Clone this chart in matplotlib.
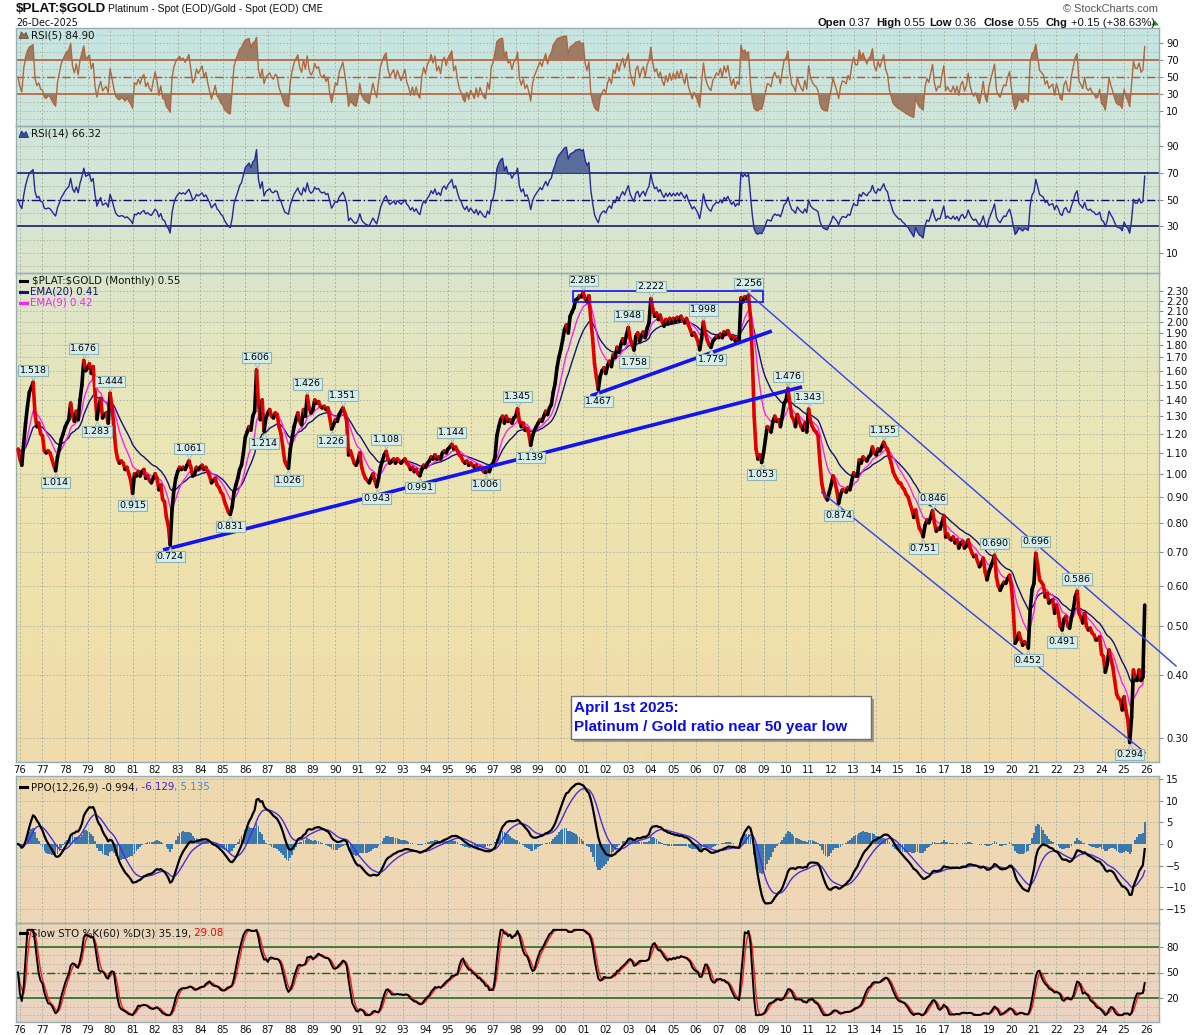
import numpy as np
import pandas as pd
import matplotlib
matplotlib.use("Agg")
import matplotlib.pyplot as plt
from matplotlib.collections import LineCollection
from matplotlib.patches import Rectangle, Polygon
from matplotlib.lines import Line2D
from matplotlib.colors import to_rgb
from matplotlib.ticker import FixedLocator, FixedFormatter, NullLocator
from matplotlib import transforms as mtrans

# ------------------------------------------------------------------ data
# monthly close of $PLAT:$GOLD, first value = Dec 1975, last = Dec 2025
ratio_1970s = [1.12,
    1.07, 1.04, 1.15, 1.26, 1.36, 1.45, 1.48, 1.518, 1.32, 1.24, 1.26, 1.20,
    1.19, 1.11, 1.10, 1.11, 1.10, 1.07, 1.04, 1.014, 1.08, 1.12, 1.17, 1.20,
    1.235, 1.26, 1.28, 1.38, 1.30, 1.27, 1.33, 1.28, 1.40, 1.50, 1.676, 1.60,
    1.62, 1.65, 1.58, 1.63, 1.45, 1.283, 1.36, 1.41, 1.29, 1.31, 1.32, 1.26]
ratio_1980s = [
    1.444, 1.36, 1.24, 1.12, 1.07, 1.05, 1.06, 1.05, 1.02, 1.03, 1.00, 0.97,
    0.915, 1.00, 0.99, 1.01, 0.99, 1.01, 1.02, 0.98, 0.99, 0.97, 0.96, 0.98,
    1.00, 0.98, 0.93, 0.95, 0.89, 0.88, 0.82, 0.79, 0.724, 0.85, 0.93, 0.98,
    1.01, 1.03, 1.02, 1.03, 1.02, 1.04, 1.061, 1.03, 0.99, 1.00, 1.03, 1.02,
    1.03, 1.04, 1.02, 1.03, 1.01, 0.99, 0.96, 0.97, 0.98, 0.95, 0.94, 0.92,
    0.91, 0.88, 0.86, 0.84, 0.831, 0.86, 0.92, 0.95, 0.98, 1.02, 1.04, 1.10,
    1.18, 1.21, 1.24, 1.22, 1.30, 1.33, 1.606, 1.38, 1.28, 1.40, 1.214, 1.29,
    1.32, 1.34, 1.30, 1.29, 1.32, 1.31, 1.24, 1.20, 1.13, 1.06, 1.04, 1.026,
    1.12, 1.18, 1.24, 1.28, 1.32, 1.27, 1.25, 1.34, 1.30, 1.426, 1.35, 1.32,
    1.34, 1.40, 1.38, 1.39, 1.36, 1.35, 1.36, 1.34, 1.35, 1.29, 1.226, 1.25]
ratio_1990s = [
    1.28, 1.27, 1.31, 1.33, 1.351, 1.32, 1.27, 1.09, 1.11, 1.08, 1.05, 1.04,
    1.06, 1.10, 1.03, 1.00, 0.98, 0.97, 0.96, 0.98, 1.00, 0.97, 0.943, 0.98,
    1.03, 1.06, 1.09, 1.108, 1.07, 1.05, 1.06, 1.07, 1.05, 1.07, 1.06, 1.05,
    1.06, 1.07, 1.05, 1.04, 1.02, 1.03, 1.01, 1.02, 1.00, 0.991, 1.02, 1.04,
    1.03, 1.05, 1.06, 1.08, 1.07, 1.09, 1.07, 1.08, 1.07, 1.10, 1.11, 1.10,
    1.12, 1.13, 1.144, 1.12, 1.13, 1.11, 1.09, 1.08, 1.06, 1.05, 1.06, 1.04,
    1.05, 1.04, 1.03, 1.04, 1.02, 1.03, 1.02, 1.01, 1.006, 1.02, 1.01, 1.04,
    1.05, 1.08, 1.19, 1.24, 1.28, 1.30, 1.26, 1.30, 1.27, 1.28, 1.26, 1.29,
    1.30, 1.345, 1.27, 1.24, 1.26, 1.22, 1.23, 1.20, 1.139, 1.19, 1.22, 1.24,
    1.26, 1.28, 1.27, 1.30, 1.33, 1.31, 1.35, 1.37, 1.45, 1.51, 1.62, 1.70]
ratio_2000s = [
    1.76, 1.84, 1.93, 1.97, 1.90, 2.05, 2.09, 2.13, 2.21, 2.22, 2.25, 2.24,
    2.285, 2.22, 2.19, 2.25, 2.02, 1.85, 1.65, 1.55, 1.467, 1.56, 1.60, 1.62,
    1.58, 1.64, 1.67, 1.63, 1.72, 1.70, 1.78, 1.74, 1.80, 1.85, 1.81, 1.88,
    1.948, 1.85, 1.80, 1.758, 1.87, 1.90, 1.83, 1.88, 1.91, 1.86, 1.94, 1.99,
    2.222, 2.12, 2.05, 2.08, 2.02, 2.06, 2.00, 1.96, 2.02, 1.98, 2.03, 1.99,
    2.03, 2.00, 2.04, 2.01, 2.05, 2.02, 1.99, 2.03, 1.97, 1.93, 1.88, 1.90,
    1.87, 1.83, 1.76, 1.85, 1.998, 1.90, 1.84, 1.80, 1.779, 1.83, 1.85, 1.87,
    1.86, 1.89, 1.86, 1.91, 1.89, 1.92, 1.88, 1.85, 1.87, 1.83, 1.85, 1.84,
    2.23, 2.19, 2.24, 2.22, 2.256, 2.05, 1.72, 1.30, 1.12, 1.07, 1.09, 1.053,
    1.10, 1.17, 1.24, 1.23, 1.21, 1.27, 1.30, 1.27, 1.28, 1.24, 1.30, 1.38]
ratio_2010s = [
    1.40, 1.476, 1.38, 1.30, 1.28, 1.24, 1.31, 1.27, 1.24, 1.22, 1.26, 1.21,
    1.343, 1.27, 1.24, 1.22, 1.21, 1.19, 1.06, 0.958, 0.92, 0.90, 0.888, 0.92,
    0.95, 0.99, 0.96, 0.927, 0.874, 0.91, 0.93, 0.927, 0.92, 0.94, 0.93, 0.97,
    1.005, 0.99, 0.99, 1.066, 1.05, 1.08, 1.07, 1.06, 1.08, 1.09, 1.13, 1.10,
    1.09, 1.12, 1.11, 1.13, 1.155, 1.13, 1.12, 1.08, 1.05, 1.01, 0.99, 0.975,
    0.96, 0.958, 0.94, 0.93, 0.91, 0.90, 0.874, 0.85, 0.82, 0.848, 0.81, 0.78,
    0.77, 0.751, 0.79, 0.81, 0.80, 0.82, 0.846, 0.80, 0.77, 0.78, 0.777, 0.80,
    0.826, 0.75, 0.76, 0.745, 0.74, 0.75, 0.73, 0.74, 0.713, 0.73, 0.735, 0.713,
    0.72, 0.74, 0.715, 0.697, 0.686, 0.69, 0.67, 0.655, 0.665, 0.68, 0.64, 0.617,
    0.64, 0.655, 0.67, 0.690, 0.625, 0.60, 0.588, 0.60, 0.61, 0.607, 0.62, 0.63]
ratio_2020s = [
    0.60, 0.538, 0.462, 0.47, 0.484, 0.47, 0.458, 0.465, 0.462, 0.452, 0.538, 0.59,
    0.607, 0.696, 0.66, 0.617, 0.61, 0.602, 0.571, 0.58, 0.555, 0.56, 0.563, 0.53,
    0.55, 0.53, 0.499, 0.491, 0.515, 0.522, 0.50, 0.495, 0.52, 0.54, 0.571, 0.586,
    0.53, 0.52, 0.507, 0.53, 0.499, 0.491, 0.495, 0.484, 0.48, 0.469, 0.47, 0.476,
    0.44, 0.435, 0.405, 0.42, 0.448, 0.43, 0.415, 0.39, 0.367, 0.36, 0.357, 0.341,
    0.362, 0.34, 0.326, 0.294, 0.33, 0.409, 0.39, 0.39, 0.409, 0.39, 0.396, 0.55]

# peak / trough call-outs ('a' = label above a peak, 'b' = label below a trough)
label_year = [1976, 1977, 1978, 1979, 1980, 1981, 1982, 1983, 1985, 1986, 1986, 1987,
              1988, 1989, 1990, 1991, 1992, 1993, 1995, 1996, 1998, 1998, 2001, 2001,
              2003, 2003, 2004, 2006, 2006, 2008, 2008, 2010, 2011, 2012, 2014, 2016,
              2016, 2019, 2020, 2021, 2022, 2022, 2025]
label_month = [8, 8, 11, 6, 1, 1, 9, 7, 5, 7, 11, 12,
               10, 11, 5, 11, 4, 10, 3, 9, 2, 9, 1, 9,
               1, 4, 1, 5, 9, 5, 12, 2, 1, 5, 5, 2,
               7, 4, 10, 2, 4, 12, 4]
label_side = ["a", "b", "a", "b", "a", "b", "b", "a", "b", "a", "b", "b",
              "a", "b", "a", "b", "a", "b", "a", "b", "a", "b", "a", "b",
              "a", "b", "a", "a", "b", "a", "b", "a", "a", "b", "a", "b",
              "a", "a", "b", "a", "b", "a", "b"]

# header / legend texts
title_symbol = "$PLAT:$GOLD"
title_desc = "Platinum - Spot (EOD)/Gold - Spot (EOD)"
chart_date = "26-Dec-2025"
ohlc_labels = ["Open", "High", "Low", "Close", "Chg"]
ohlc_values = ["0.37", "0.55", "0.36", "0.55", "+0.15 (+38.63%)"]
rsi5_text = "RSI(5) 84.90"
rsi14_text = "RSI(14) 66.32"
main_texts = ["$PLAT:$GOLD (Monthly) 0.55", "EMA(20) 0.41", "EMA(9) 0.42"]
ppo_texts = ["PPO(12,26,9) -0.994", ", -6.129", ", 5.135"]
sto_texts = ["Slow STO %K(60) %D(3) 35.19,", " 29.08"]
note_lines = ["April 1st 2025:", "Platinum / Gold ratio near 50 year low"]

main_ticks = [0.30, 0.40, 0.50, 0.60, 0.70, 0.80, 0.90, 1.00, 1.10, 1.20, 1.30,
              1.40, 1.50, 1.60, 1.70, 1.80, 1.90, 2.00, 2.10, 2.20, 2.30]
first_year, last_year = 1976, 2026

# ------------------------------------------------------------------ series
price = np.array(ratio_1970s + ratio_1980s + ratio_1990s + ratio_2000s + ratio_2010s + ratio_2020s)
xm = np.arange(len(price)) - 1.0          # month index, 0 = Jan 1976
s = pd.Series(price)
ema20 = s.ewm(span=20, adjust=False).mean().values
ema9 = s.ewm(span=9, adjust=False).mean().values


def rsi(series, n):
    d = series.diff().fillna(0.0)
    up = d.clip(lower=0).copy()
    dn = (-d.clip(upper=0)).copy()
    seed = d.abs().mean() / 2.0          # neutral start for Wilder smoothing
    up.iloc[0] = seed
    dn.iloc[0] = seed
    au = up.ewm(alpha=1.0 / n, adjust=False).mean()
    ad = dn.ewm(alpha=1.0 / n, adjust=False).mean()
    rs = au / ad.replace(0, np.nan)
    return (100 - 100 / (1 + rs)).fillna(50).values


rsi5 = rsi(s, 5)
rsi14 = rsi(s, 14)
e12 = s.ewm(span=12, adjust=False).mean()
e26 = s.ewm(span=26, adjust=False).mean()
ppo = (e12 - e26) / e26 * 100
ppo_sig = ppo.ewm(span=9, adjust=False).mean()
ppo_hist = (ppo - ppo_sig).values
ppo = ppo.values
ppo_sig = ppo_sig.values
ll = s.rolling(60, min_periods=1).min()
hh = s.rolling(60, min_periods=1).max()
fastk = (100 * (s - ll) / (hh - ll).replace(0, np.nan)).fillna(50)
slowk = fastk.rolling(3, min_periods=1).mean()
slowd = slowk.rolling(3, min_periods=1).mean()

# ------------------------------------------------------------------ figure
W, H = 1200, 1035
fig = plt.figure(figsize=(W / 100, H / 100), dpi=100)
fig.patch.set_facecolor("white")
PX = mtrans.Affine2D().scale(1.0 / W, -1.0 / H).translate(0, 1) + fig.transFigure
L, R = 16, 1159


def axrect(top, bottom):
    return [L / W, 1 - bottom / H, (R - L) / W, (bottom - top) / H]


# gradient background
stops = [(28, "#c5e5e2"), (126, "#cfe6db"), (273, "#dbe5cb"), (420, "#eae6b7"),
         (600, "#efe1aa"), (762, "#efdbad"), (776, "#eedaae"), (923, "#eed6b8"), (1022, "#ecd2c2")]
ys = np.arange(28, 1023)
sy = np.array([a for a, _ in stops], float)
cols = np.array([to_rgb(c) for _, c in stops])
grad = np.stack([np.interp(ys, sy, cols[:, k]) for k in range(3)], axis=1)[:, None, :]
bg = fig.add_axes(axrect(28, 1022), zorder=-5)
bg.imshow(grad, aspect="auto", extent=[0, 1, 0, 1], origin="upper", interpolation="bilinear")
bg.add_patch(Rectangle((0, (1022 - 776) / 994), 1, 14 / 994, color="white", lw=0))
bg.set_xlim(0, 1)
bg.set_ylim(0, 1)
bg.set_axis_off()

ax_r5 = fig.add_axes(axrect(28, 126))
ax_r14 = fig.add_axes(axrect(126, 273))
ax_m = fig.add_axes(axrect(273, 762))
ax_p = fig.add_axes(axrect(776, 923))
ax_s = fig.add_axes(axrect(923, 1022))
axes = [ax_r5, ax_r14, ax_m, ax_p, ax_s]

XMIN, XMAX = -2.1, 606.6
year_pos = [12 * (y - first_year) for y in range(first_year, last_year + 1)]
year_lab = ["%02d" % (y % 100) for y in range(first_year, last_year + 1)]
GC = "#aeb6a3"
GLS = (0, (2, 2))

for a in axes:
    a.set_facecolor("none")
    a.set_xlim(XMIN, XMAX)
    for sp in a.spines.values():
        sp.set_color("#98adb2")
        sp.set_linewidth(1.0)
    a.yaxis.tick_right()
    a.tick_params(axis="y", which="major", direction="out", length=3, width=0.8,
                  color="#7d8f93", labelsize=7.2, pad=2, labelcolor="#111111")
    a.tick_params(axis="x", length=0, labelsize=7.2, pad=2.2, labelcolor="#111111")
    a.set_xticks(year_pos)
    if a in (ax_m, ax_s):
        a.set_xticklabels(year_lab)
    else:
        a.set_xticklabels([])
    for m in year_pos:
        a.axvline(m, color=GC, lw=0.7, ls=GLS, zorder=0.5)

# ---------------- RSI(5)
ax_r5.set_ylim(-8, 108)
ax_r5.set_yticks([10, 30, 50, 70, 90])
for v in range(0, 101, 10):
    ax_r5.axhline(v, color=GC, lw=0.6, ls=GLS, zorder=0.5)
rc = "#b5552c"
ax_r5.axhline(70, color=rc, lw=1.1, zorder=2)
ax_r5.axhline(30, color=rc, lw=1.1, zorder=2)
ax_r5.axhline(50, color=rc, lw=1.0, ls=(0, (6, 2, 1, 2)), zorder=2)
ax_r5.fill_between(xm, rsi5, 70, where=rsi5 > 70, interpolate=True, color="#9c7c64", lw=0, zorder=2.5)
ax_r5.fill_between(xm, rsi5, 30, where=rsi5 < 30, interpolate=True, color="#9c7c64", lw=0, zorder=2.5)
ax_r5.plot(xm, rsi5, color="#b0673f", lw=1.0, zorder=3)

# ---------------- RSI(14)
ax_r14.set_ylim(-5, 105)
ax_r14.set_yticks([10, 30, 50, 70, 90])
for v in range(0, 101, 10):
    ax_r14.axhline(v, color=GC, lw=0.6, ls=GLS, zorder=0.5)
nc = "#0c0c70"
ax_r14.axhline(70, color=nc, lw=1.1, zorder=2)
ax_r14.axhline(30, color=nc, lw=1.1, zorder=2)
ax_r14.axhline(50, color=nc, lw=1.0, ls=(0, (6, 2, 1, 2)), zorder=2)
ax_r14.fill_between(xm, rsi14, 70, where=rsi14 > 70, interpolate=True, color="#5a6e9c", lw=0, zorder=2.5)
ax_r14.fill_between(xm, rsi14, 30, where=rsi14 < 30, interpolate=True, color="#5a6e9c", lw=0, zorder=2.5)
ax_r14.plot(xm, rsi14, color="#27279a", lw=1.0, zorder=3)

# ---------------- main price panel
ax_m.set_yscale("log")
ax_m.set_ylim(0.269, 2.497)
ax_m.yaxis.set_major_locator(FixedLocator(main_ticks))
ax_m.yaxis.set_major_formatter(FixedFormatter(["%.2f" % v for v in main_ticks]))
ax_m.yaxis.set_minor_locator(NullLocator())
for v in main_ticks:
    ax_m.axhline(v, color=GC, lw=0.6, ls=GLS, zorder=0.5)
ax_m.plot(xm, ema20, color="#12127a", lw=1.0, zorder=2)
ax_m.plot(xm, ema9, color="#ff1eff", lw=1.0, zorder=2.1)
pts = np.column_stack([xm, price])
segs = np.stack([pts[:-1], pts[1:]], axis=1)
seg_cols = np.where(np.diff(price) >= 0, "#000000", "#e00000")
ax_m.add_collection(LineCollection(segs, colors=seg_cols, linewidths=2.6,
                                   capstyle="round", joinstyle="round", zorder=3))

# trend lines and box (drawn analysis)
blue = "#1414f0"
ax_m.plot([76.2, 416.5], [0.707, 1.486], color=blue, lw=2.6, solid_capstyle="butt", zorder=4)
ax_m.plot([303.9, 400.4], [1.426, 1.917], color=blue, lw=2.6, solid_capstyle="butt", zorder=4)
ax_m.add_patch(Rectangle((294.7, 2.188), 395.9 - 294.7, 2.305 - 2.188, fill=False,
                         ec=blue, lw=1.2, zorder=4))
ax_m.plot([387.9, 615.7], [2.277, 0.4165], color="#3040ee", lw=1.0, zorder=4, clip_on=False)
ax_m.plot([427.0, 599.2], [0.919, 0.281], color="#3040ee", lw=1.0, zorder=4)

# call-out labels
box_fc, box_ec = "#d5eeec", "#93b3b3"
for yr, mo, side in zip(label_year, label_month, label_side):
    i = (yr - first_year) * 12 + (mo - 1) + 1
    mx, v = xm[i], price[i]
    dy = 12 if side == "a" else -12
    ax_m.annotate("%.3f" % v, xy=(mx, v), xytext=(0, dy), textcoords="offset pixels",
                  ha="center", va="center", fontsize=6.8, color="black", zorder=6,
                  bbox=dict(boxstyle="square,pad=0.12", fc=box_fc, ec=box_ec, lw=0.8))
    tr = mtrans.offset_copy(ax_m.transData, fig=fig, x=0, y=(5 if side == "a" else -5), units="dots")
    ax_m.plot([mx], [v], marker=("v" if side == "a" else "^"), ms=4.5, mfc=box_fc,
              mec=box_ec, mew=0.6, transform=tr, zorder=5.5, clip_on=False)

# ---------------- PPO
ax_p.set_ylim(-18.2, 15.7)
ax_p.set_yticks([-15, -10, -5, 0, 5, 10, 15])
for v in [-15, -10, -5, 5, 10, 15]:
    ax_p.axhline(v, color=GC, lw=0.6, ls=GLS, zorder=0.5)
ax_p.bar(xm, ppo_hist, width=0.9, color="#3a78ae", lw=0, zorder=2)
ax_p.plot(xm, ppo_sig, color="#4a2be0", lw=1.0, zorder=3)
ax_p.plot(xm, ppo, color="black", lw=1.6, zorder=4)

# ---------------- Slow STO
ax_s.set_ylim(-8, 108)
ax_s.set_yticks([20, 50, 80])
for v in range(0, 101, 10):
    ax_s.axhline(v, color=GC, lw=0.6, ls=GLS, zorder=0.5)
gc = "#15661a"
ax_s.axhline(80, color=gc, lw=1.1, zorder=2)
ax_s.axhline(20, color=gc, lw=1.1, zorder=2)
ax_s.axhline(50, color=gc, lw=1.0, ls=(0, (6, 2, 1, 2)), zorder=2)
ax_s.plot(xm, slowd.values, color="#ff1a1a", lw=1.0, zorder=3)
ax_s.plot(xm, slowk.values, color="black", lw=1.4, zorder=4)

# ------------------------------------------------------------------ texts
renderer = fig.canvas.get_renderer()


def ptext(x, y, txt, **kw):
    kw.setdefault("va", "center")
    kw.setdefault("ha", "left")
    kw.setdefault("parse_math", False)
    return fig.text(x / W, 1 - y / H, txt, **kw)


def chain(x, y, pieces, **kw):
    for txt, col in pieces:
        t = ptext(x, y, txt, color=col, **kw)
        x += t.get_window_extent(renderer).width
    return x


LS = "Liberation Sans"
ptext(16, 9.5, title_symbol, fontsize=9.6, fontweight="bold", family=LS, color="#111111")
ptext(108, 9.5, title_desc, fontsize=7.5, family=LS, color="#111111")
ptext(301, 9.5, "CME", fontsize=7.2, family="DejaVu Sans", color="#111111")
ptext(16, 22.5, chart_date, fontsize=6.9, color="#111111")
ptext(1158, 9.5, "\u00a9 StockCharts.com", ha="right", fontsize=7.9, family=LS, color="#555555")
ohlc_x = [817, 876, 929, 984, 1046]
for xl, lab, val in zip(ohlc_x, ohlc_labels, ohlc_values):
    t = ptext(xl, 22.5, lab, fontsize=8.1, fontweight="bold", family=LS, color="#111111")
    w = t.get_window_extent(renderer).width
    ptext(xl + w + 3, 22.5, val, fontsize=8.1, family=LS, color="#111111")
fig.add_artist(Polygon([[1151, 25.5], [1159, 25.5], [1155, 20.5]], closed=True,
                       transform=PX, color="#2a9a2a", lw=0))

# panel legends
fig.add_artist(Polygon([[19, 38.5], [21.5, 32], [24, 35], [26, 32.5], [28.5, 38.5]], closed=True,
                       transform=PX, fc="#8f6c55", ec="#6d4f3d", lw=0.6))
ptext(31, 35, rsi5_text, fontsize=7.4, color="#111111")
fig.add_artist(Polygon([[19, 137.5], [21.5, 131], [24, 134], [26, 131.5], [28.5, 137.5]], closed=True,
                       transform=PX, fc="#3a4c9a", ec="#1f2f7a", lw=0.6))
ptext(31, 134, rsi14_text, fontsize=7.4, color="#111111")

leg_cols = ["black", "#12127a", "#ff1eff"]
leg_y = [281, 292, 302.5]
leg_x = [32, 29.5, 29.5]
for txt, c, yy, xx in zip(main_texts, leg_cols, leg_y, leg_x):
    fig.add_artist(Line2D([19.5, 27], [yy, yy], transform=PX, color=c, lw=2.2))
    ptext(xx, yy, txt, fontsize=7.4, color=("#111111" if c == "black" else c))

fig.add_artist(Line2D([19.5, 27], [787, 787], transform=PX, color="black", lw=2.2))
chain(31, 787, list(zip(ppo_texts, ["#111111", "#3f1fe0", "#3a8fd8"])), fontsize=7.4)
fig.add_artist(Line2D([19.5, 27], [933, 933], transform=PX, color="black", lw=2.2))
chain(31, 933, list(zip(sto_texts, ["#111111", "#ff0000"])), fontsize=7.4)

# annotation box
fig.add_artist(Rectangle((573.5, 698.5), 300.5, 43.5, transform=PX, fc="#9a9a9a", ec="none", zorder=6))
fig.add_artist(Rectangle((570.5, 695.5), 300.5, 43.5, transform=PX, fc="white", ec="#6f6f6f", lw=1.0, zorder=7))
ptext(573.5, 712.3, note_lines[0], va="baseline", fontsize=11, fontweight="bold", family=LS,
      color="#0a0af0", zorder=8)
ptext(573.5, 731.0, note_lines[1], va="baseline", fontsize=11, fontweight="bold", family=LS,
      color="#0a0af0", zorder=8)

fig.savefig("out.png", dpi=100, facecolor="white")
